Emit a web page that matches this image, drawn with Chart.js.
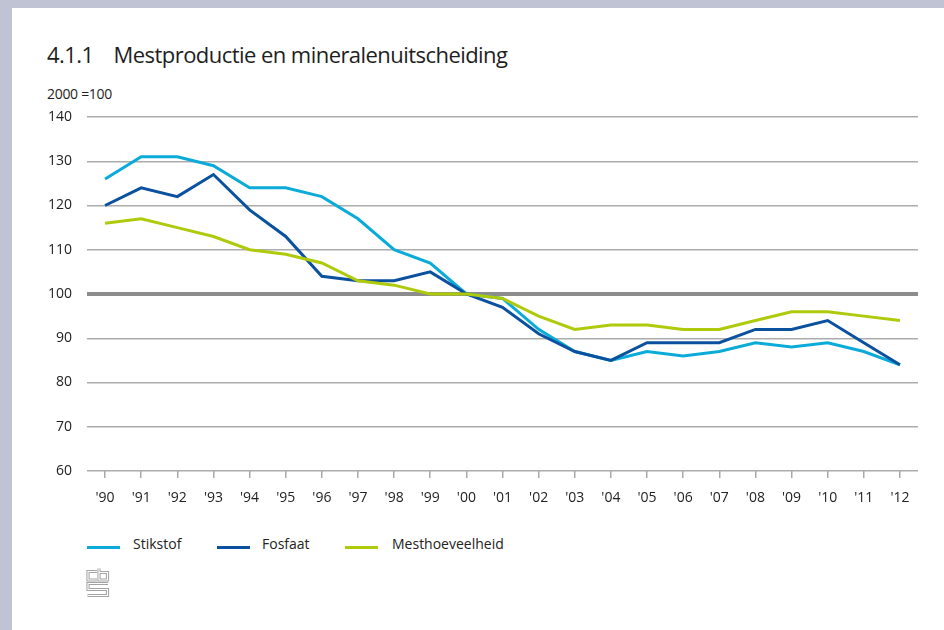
<!DOCTYPE html>
<html>
<head>
<meta charset="utf-8">
<script src="https://cdn.jsdelivr.net/npm/chart.js@4/dist/chart.umd.min.js"></script>
<style>
  html, body { margin: 0; padding: 0; }
  body { width: 944px; height: 630px; background: #ffffff; position: relative; overflow: hidden; font-family: "Open Sans", sans-serif; color: #222; }
  #topstrip { position: absolute; left: 0; top: 0; width: 944px; height: 8px; background: #bfc3d4; }
  #leftstrip { position: absolute; left: 0; top: 0; width: 12px; height: 630px; background: #bfc3d4; }
  #title { position: absolute; left: 47px; top: 39px; font-size: 22px; white-space: nowrap; color: #1e1e1e; letter-spacing: -0.55px; }
  #title .num { margin-right: 20px; }
  #unit { position: absolute; left: 47px; top: 84px; font-size: 14px; color: #1e1e1e; letter-spacing: -0.3px; }
  #wrap { position: absolute; left: 40px; top: 100px; width: 890px; height: 420px; }
  .lg-line { position: absolute; height: 3px; width: 33px; top: 546px; }
  .lg-text { position: absolute; top: 534px; font-size: 14px; color: #222; white-space: nowrap; }
  #logo { position: absolute; left: 86px; top: 567px; }
</style>
</head>
<body>
<div id="topstrip"></div>
<div id="leftstrip"></div>
<div id="title"><span class="num">4.1.1</span>Mestproductie en mineralenuitscheiding</div>
<div id="unit">2000 =100</div>
<div id="wrap"><canvas id="c"></canvas></div>
<div id="legend"></div>
<svg id="logo" width="24" height="31" viewBox="0 0 24 31">
  <g fill="none" stroke-linejoin="miter" stroke-linecap="butt">
    <path d="M11,4.5 H2 V13 H11 M13,1.5 V13 H21.5 V5.5 H13 M22,16.5 H2 V22.5 H21.5 V28.5 H1.5" stroke="#a3a3a3" stroke-width="3.2"/>
    <path d="M11,4.5 H2 V13 H11 M13,1.5 V13 H21.5 V5.5 H13 M22,16.5 H2 V22.5 H21.5 V28.5 H1.5" stroke="#ffffff" stroke-width="1.1"/>
  </g>
</svg>
<script>
const categories = ["'90","'91","'92","'93","'94","'95","'96","'97","'98","'99","'00","'01","'02","'03","'04","'05","'06","'07","'08","'09","'10","'11","'12"];
const stikstof = [126,131,131,129,124,124,122,117,110,107,100,99,92,87,85,87,86,87,89,88,89,87,84];
const fosfaat = [120,124,122,127,119,113,104,103,103,105,100,97,91,87,85,89,89,89,92,92,94,89,84];
const mesthoeveelheid = [116,117,115,113,110,109,107,103,102,100,100,99,95,92,93,93,92,92,94,96,96,95,94];
const seriesNames = ["Stikstof","Fosfaat","Mesthoeveelheid"];
const yTicks = [60,70,80,90,100,110,120,130,140];

const colors = ['#0babd9', '#0a519f', '#afca0b'];

// HTML legend
const legendPos = [{l:87,t:133},{l:217,t:262},{l:345,t:392}];
const lg = document.getElementById('legend');
seriesNames.forEach((n,i) => {
  const ln = document.createElement('div');
  ln.className = 'lg-line'; ln.style.left = legendPos[i].l + 'px'; ln.style.background = colors[i];
  const tx = document.createElement('div');
  tx.className = 'lg-text'; tx.style.left = legendPos[i].t + 'px'; tx.textContent = n;
  lg.appendChild(ln); lg.appendChild(tx);
});

const data = {
  labels: categories,
  datasets: [stikstof, fosfaat, mesthoeveelheid].map((d,i) => ({
    label: seriesNames[i],
    data: d,
    borderColor: colors[i],
    backgroundColor: colors[i],
    borderWidth: 3,
    pointRadius: 0,
    pointHoverRadius: 0,
    tension: 0,
    fill: false
  })).reverse()
};

new Chart(document.getElementById('c'), {
  type: 'line',
  data: data,
  options: {
    responsive: true,
    maintainAspectRatio: false,
    animation: false,
    events: [],
    layout: { padding: { top: 17, right: 12, left: 0, bottom: 0 } },
    plugins: { legend: { display: false }, title: { display: false }, tooltip: { enabled: false } },
    scales: {
      x: {
        type: 'category',
        offset: true,
        border: { display: false },
        grid: { display: true, drawOnChartArea: false, drawTicks: true, tickLength: 7, color: '#a9a9a9', lineWidth: 1.5 },
        ticks: { color: '#222', font: { family: 'Open Sans', size: 14 }, padding: 12, maxRotation: 0, autoSkip: false },
        afterFit: (s) => { s.height = 49; s.paddingLeft = 0; s.paddingRight = 0; }
      },
      y: {
        min: 60, max: 140,
        afterBuildTicks: (s) => { s.ticks = yTicks.map(v => ({ value: v })); },
        border: { display: false },
        grid: {
          drawTicks: false,
          color: (ctx) => ctx.tick && ctx.tick.value === 100 ? '#8c8c8c' : '#acacac',
          lineWidth: (ctx) => ctx.tick && ctx.tick.value === 100 ? 4 : 1.5
        },
        ticks: { color: '#222', font: { family: 'Open Sans', size: 14 }, padding: 15 },
        afterFit: (s) => { s.width = 47; s.paddingTop = 0; s.paddingBottom = 0; }
      }
    }
  }
});
</script>
</body>
</html>
